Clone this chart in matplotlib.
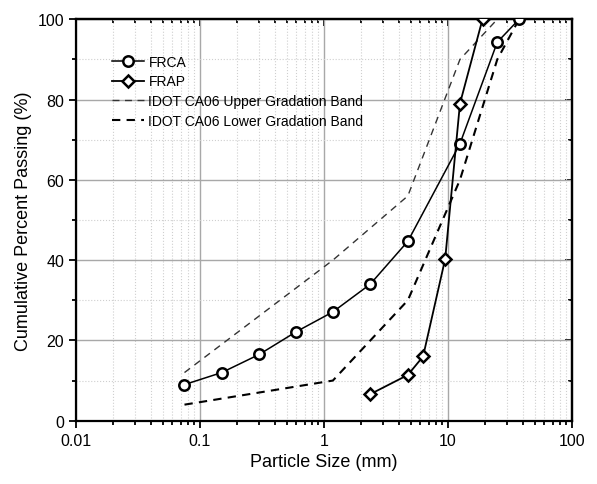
import matplotlib
matplotlib.use('Agg')
import matplotlib.pyplot as plt
from matplotlib.ticker import FixedLocator, FixedFormatter, MultipleLocator, NullFormatter, LogLocator
import numpy as np

plt.rcParams['font.family'] = ['Liberation Sans', 'DejaVu Sans']

# FRCA gradation
frca_size = [0.075, 0.15, 0.3, 0.6, 1.18, 2.36, 4.75, 12.5, 25, 37.5]
frca_pass = [9, 12, 16.5, 22.2, 27.1, 34, 44.7, 69, 94.3, 100]

# FRAP gradation
frap_size = [2.36, 4.75, 6.3, 9.5, 12.5, 19]
frap_pass = [6.6, 11.4, 16, 40.3, 79, 100]

# IDOT CA06 bands
upper_size = [0.075, 1.18, 4.75, 12.5, 25]
upper_pass = [12, 40, 56, 90, 100]
lower_size = [0.075, 1.18, 4.75, 12.5, 25, 37.5]
lower_pass = [4, 10, 30, 60, 90, 100]

xticks = [0.01, 0.1, 1, 10, 100]
xlabels = ['0.01', '0.1', '1', '10', '100']

fig = plt.figure(figsize=(5.97, 4.85), dpi=100)
ax = fig.add_axes([0.1273, 0.1305, 0.8307, 0.8277])

ax.plot(frca_size, frca_pass, color='black', lw=1.1, marker='o', ms=7.5,
        mfc='white', mec='black', mew=1.8, label='FRCA', zorder=5)
ax.plot(frap_size, frap_pass, color='black', lw=1.3, marker='D', ms=6.5,
        mfc='white', mec='black', mew=1.8, label='FRAP', zorder=5)
ax.plot(upper_size, upper_pass, color='#333333', lw=1.0, ls=(0, (5, 4)),
        label='IDOT CA06 Upper Gradation Band', zorder=4)
ax.plot(lower_size, lower_pass, color='black', lw=1.5, ls=(0, (4, 3)),
        label='IDOT CA06 Lower Gradation Band', zorder=4)

ax.set_xscale('log')
ax.set_xlim(0.01, 100)
ax.set_ylim(0, 100)
ax.xaxis.set_major_locator(FixedLocator(xticks))
ax.xaxis.set_major_formatter(FixedFormatter(xlabels))
ax.xaxis.set_minor_formatter(NullFormatter())
ax.yaxis.set_major_locator(MultipleLocator(20))
ax.yaxis.set_minor_locator(MultipleLocator(10))

ax.grid(True, which='major', color='#a8a8a8', lw=1.0, ls='-')
ax.grid(True, which='minor', color='#cfcfcf', lw=0.8, ls=':')
ax.set_axisbelow(True)

for s in ax.spines.values():
    s.set_linewidth(1.6)
ax.tick_params(which='both', direction='out', labelsize=11.5, width=1.3)
ax.tick_params(which='major', length=5)
ax.tick_params(which='minor', length=3)

# mirrored ticks on top and right, pointing inward
top = ax.secondary_xaxis('top')
top.set_xscale('log')
top.xaxis.set_major_locator(FixedLocator(xticks))
top.xaxis.set_minor_locator(LogLocator(subs=np.arange(2, 10)))
top.tick_params(which='both', direction='in', labeltop=False, width=1.3)
top.tick_params(which='major', length=5)
top.tick_params(which='minor', length=3)
right = ax.secondary_yaxis('right')
right.yaxis.set_major_locator(MultipleLocator(20))
right.yaxis.set_minor_locator(MultipleLocator(10))
right.tick_params(which='both', direction='in', labelright=False, width=1.3)
right.tick_params(which='major', length=5)
right.tick_params(which='minor', length=3)
for sec in (top, right):
    for s in sec.spines.values():
        s.set_linewidth(1.6)

ax.set_xlabel('Particle Size (mm)', fontsize=13)
ax.set_ylabel('Cumulative Percent Passing (%)', fontsize=13)

ax.legend(loc='upper left', bbox_to_anchor=(0.062, 0.925), frameon=False,
          fontsize=10, handlelength=2.3, handletextpad=0.3, labelspacing=0.4,
          borderaxespad=0)

fig.savefig('out.png', dpi=100)
